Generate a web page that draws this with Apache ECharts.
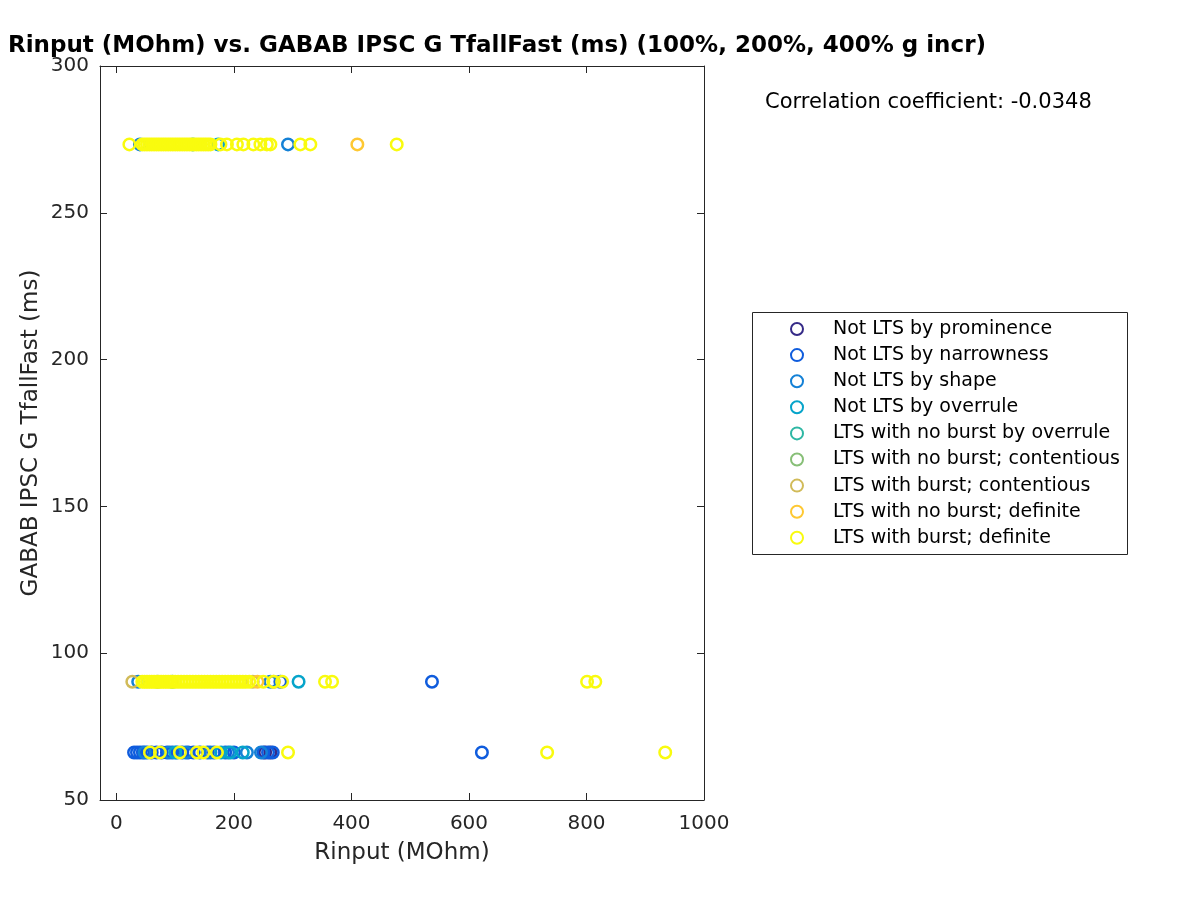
<!DOCTYPE html>
<html><head><meta charset="utf-8">
<script src="https://cdn.jsdelivr.net/npm/echarts@6/dist/echarts.min.js"></script>
<style>html,body{margin:0;padding:0;background:#fff}#c{width:1200px;height:900px}</style>
</head><body><div id="c"></div>
<script>
// ---- data ----
const seriesNames = [
  'Not LTS by prominence',
  'Not LTS by narrowness',
  'Not LTS by shape',
  'Not LTS by overrule',
  'LTS with no burst by overrule',
  'LTS with no burst; contentious',
  'LTS with burst; contentious',
  'LTS with no burst; definite',
  'LTS with burst; definite'
];
const seriesColors = ['#352a87','#0f5cdd','#1481d6','#06a4ca','#2eb7a4','#87bf77','#d1bb59','#fec832','#f9fb0e'];

const notLtsProminence = [[253,66.2],[262,66.2]];
const notLtsNarrowness = [
  [30,66.2],[35,66.2],[40,66.2],[45,66.2],[52,66.2],[60,66.2],[68,66.2],[77,66.2],[86,66.2],[95,66.2],
  [103,66.2],[112,66.2],[122,66.2],[131,66.2],[142,66.2],[155,66.2],[166,66.2],[185,66.2],[200,66.2],
  [250,66.2],[258,66.2],[266,66.2],[622,66.2],
  [279,90.3],[537,90.3]
];
const notLtsShape = [
  [48,66.2],[90,66.2],[118,66.2],[160,66.2],[190,66.2],[222,66.2],[246,66.2],
  [37,90.3],[262,90.3],
  [40,273.3],[292,273.3]
];
const notLtsOverrule = [[100,66.2],[178,66.2],[194,66.2],[215,66.2],[310,90.3],[173,273.3]];
const ltsNoBurstOverrule = [[95,90.3],[130,273.3]];
const ltsNoBurstContentious = [[70,90.3]];
const ltsBurstContentious = [[27,90.3],[232,90.3],[268,90.3]];
const ltsNoBurstDefinite = [[240,90.3],[410,273.3]];
const ltsBurstDefinite = [
  [22,273.3],[44,273.3],[48,273.3],[52,273.3],[56,273.3],[60,273.3],[64,273.3],[68,273.3],[72,273.3],
  [76,273.3],[80,273.3],[84,273.3],[88,273.3],[92,273.3],[96,273.3],[100,273.3],[104,273.3],[108,273.3],
  [112,273.3],[116,273.3],[120,273.3],[124,273.3],[128,273.3],[132,273.3],[136,273.3],[140,273.3],
  [144,273.3],[148,273.3],[152,273.3],[156,273.3],[160,273.3],[177,273.3],[188,273.3],[205,273.3],
  [216,273.3],[233,273.3],[245,273.3],[256,273.3],[262,273.3],[313,273.3],[330,273.3],[477,273.3],
  [44,90.3],[48,90.3],[52,90.3],[56,90.3],[60,90.3],[64,90.3],[68,90.3],[72,90.3],[76,90.3],[80,90.3],
  [84,90.3],[88,90.3],[92,90.3],[96,90.3],[100,90.3],[105,90.3],[110,90.3],[115,90.3],[120,90.3],
  [125,90.3],[130,90.3],[135,90.3],[140,90.3],[145,90.3],[150,90.3],[155,90.3],[160,90.3],[165,90.3],
  [170,90.3],[175,90.3],[180,90.3],[185,90.3],[190,90.3],[195,90.3],[200,90.3],[205,90.3],[210,90.3],
  [215,90.3],[220,90.3],[226,90.3],[250,90.3],[267,90.3],[282,90.3],[355,90.3],[367,90.3],[801,90.3],[815,90.3],
  [57,66.2],[74,66.2],[108,66.2],[137,66.2],[148,66.2],[171,66.2],[292,66.2],[733,66.2],[934,66.2]
];
const allSeriesData = [notLtsProminence, notLtsNarrowness, notLtsShape, notLtsOverrule,
  ltsNoBurstOverrule, ltsNoBurstContentious, ltsBurstContentious, ltsNoBurstDefinite, ltsBurstDefinite];

const xTicks = [0,200,400,600,800,1000];
const yTicks = [50,100,150,200,250,300];
const titleText = 'Rinput (MOhm) vs. GABAB IPSC G TfallFast (ms) (100%, 200%, 400% g incr)';
const xLabel = 'Rinput (MOhm)';
const yLabel = 'GABAB IPSC G TfallFast (ms)';
const corrText = 'Correlation coefficient: -0.0348';

// ---- chart ----
const FONT = 'DejaVu Sans';
const AX = '#262626';
const chart = echarts.init(document.getElementById('c'), null, {renderer:'canvas'});

const series = allSeriesData.map((d, i) => ({
  name: seriesNames[i],
  type: 'scatter',
  data: d,
  symbol: 'circle',
  symbolSize: 11.5,
  itemStyle: {color: 'rgba(0,0,0,0)', borderColor: seriesColors[i], borderWidth: 2.5, opacity: 1},
  emphasis: {disabled: true},
  silent: true
}));

const baseX = {
  type: 'value', min: -28, max: 1000,
  splitLine: {show: false},
  axisLine: {show: true, onZero: false, lineStyle: {color: AX, width: 1}},
  axisTick: {show: true, inside: true, length: 7, customValues: xTicks, lineStyle: {color: AX}},
};
const baseY = {
  type: 'value', min: 50, max: 300, interval: 50,
  splitLine: {show: false},
  axisLine: {show: true, onZero: false, lineStyle: {color: AX, width: 1}},
  axisTick: {show: true, inside: true, length: 7, lineStyle: {color: AX}},
};

chart.setOption({
  animation: false,
  backgroundColor: '#fff',
  textStyle: {fontFamily: FONT},
  title: {
    text: titleText, left: 8, top: 35, padding: 0,
    textStyle: {fontFamily: FONT, fontSize: 23, fontWeight: 'bold', color: '#000'}
  },
  grid: {left: 100, top: 66, width: 604, height: 734, containLabel: false},
  xAxis: [
    Object.assign({}, baseX, {
      position: 'bottom',
      name: xLabel, nameLocation: 'middle', nameGap: 42, nameMoveOverlap: false,
      nameTextStyle: {fontFamily: FONT, fontSize: 23, color: AX},
      axisLabel: {show: true, customValues: xTicks, margin: 14, fontFamily: FONT, fontSize: 20, color: AX,
        formatter: v => String(v)}
    }),
    Object.assign({}, baseX, {position: 'top', axisLabel: {show: false}})
  ],
  yAxis: [
    Object.assign({}, baseY, {
      position: 'left',
      name: yLabel, nameLocation: 'middle', nameGap: 57, nameMoveOverlap: false,
      nameTextStyle: {fontFamily: FONT, fontSize: 23, color: AX},
      axisLabel: {show: true, margin: 11, fontFamily: FONT, fontSize: 20, color: AX,
        padding: [3,0,0,0], formatter: v => String(v)}
    }),
    Object.assign({}, baseY, {position: 'right', axisLabel: {show: false}})
  ],
  legend: {
    orient: 'vertical', left: 790, top: 319, padding: 0,
    itemWidth: 14, itemHeight: 12, itemGap: 6.1,
    icon: 'circle', selectedMode: false,
    textStyle: {fontFamily: FONT, fontSize: 19, color: '#000', lineHeight: 20, padding: [0,0,0,24]},
    data: seriesNames.map((n, i) => ({
      name: n, icon: 'circle',
      itemStyle: {color: 'rgba(0,0,0,0)', borderColor: seriesColors[i], borderWidth: 2, opacity: 1}
    }))
  },
  graphic: [
    {type: 'rect', shape: {x: 752.5, y: 312.5, width: 375, height: 242}, silent: true,
     style: {fill: 'none', stroke: AX, lineWidth: 1}},
    {type: 'text', x: 765, y: 103, silent: true,
     style: {text: corrText, fontFamily: FONT, fontSize: 21, fill: '#000', verticalAlign: 'middle', align: 'left'}}
  ],
  series: series
});
</script></body></html>
